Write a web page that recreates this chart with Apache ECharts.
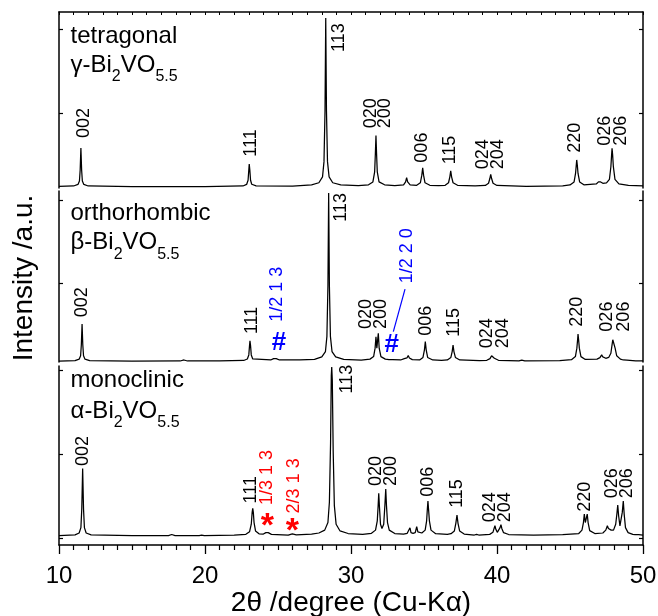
<!DOCTYPE html>
<html><head><meta charset="utf-8">
<script src="https://cdn.jsdelivr.net/npm/echarts@6/dist/echarts.min.js"></script>
<style>html,body{margin:0;padding:0;background:#fff}#c{width:658px;height:616px}</style>
</head><body><div id="c"></div>
<script>
// ---------- data (2θ, relative intensity; 113 peak = 100) ----------
const tetragonal = [
 [10,0.3],[11.0,0.6],[11.3,1.5],[11.4,3.5],[11.45,10],[11.5,23],[11.55,10],[11.6,3.5],[11.7,1.5],[12.0,0.6],
 [15,0.2],[20,0.2],
 [22.6,0.6],[22.85,1.5],[22.95,4],[23.0,10],[23.03,13.6],[23.07,10],[23.12,4],[23.2,1.6],[23.5,0.7],
 [26,0.5],
 [27.3,1.2],[27.8,2.5],[28.05,6],[28.15,15],[28.22,45],[28.27,100],[28.32,45],[28.39,15],[28.5,6],[28.75,2.5],[29.3,1.2],
 [30.5,0.8],
 [31.2,1.3],[31.5,3],[31.62,9],[31.67,20],[31.71,30.4],[31.75,20],[31.8,9],[31.92,3],[32.3,1.3],
 [33.0,0.8],
 [33.6,1.2],[33.74,3],[33.81,5.5],[33.88,3],[34.05,1.2],
 [34.5,1.0],[34.75,2.5],[34.85,7],[34.91,11.4],[34.97,7],[35.07,2.5],[35.4,1.0],
 [36.0,0.8],
 [36.45,1.0],[36.68,2.5],[36.77,6],[36.83,9.5],[36.89,6],[36.99,2.5],[37.3,1.0],
 [38.5,0.6],
 [39.2,0.9],[39.42,2.2],[39.51,5],[39.57,7.5],[39.63,5],[39.73,2.2],[40.0,0.9],
 [42,0.4],[44.5,0.7],
 [45.0,1.2],[45.28,3],[45.38,8],[45.43,13],[45.46,16],[45.5,13],[45.55,8],[45.66,3],[45.95,1.3],
 [46.8,1.8],[46.95,3],[47.03,4.1],[47.1,3],[47.25,2.2],
 [47.5,2.4],[47.7,4.5],[47.8,12],[47.85,19],[47.88,22.9],[47.92,19],[47.97,12],[48.08,4.5],[48.35,1.8],
 [49,0.9],[50,0.6]
];
const orthorhombic = [
 [10,0.3],[11.1,0.6],[11.38,1.5],[11.48,3.5],[11.53,10],[11.58,22.3],[11.63,10],[11.68,3.5],[11.78,1.5],[12.1,0.6],
 [15,0.3],[18.3,0.4],[18.56,1.0],[18.8,0.4],[21,0.4],
 [22.65,0.7],[22.9,1.6],[23.0,4],[23.05,9.5],[23.08,12.4],[23.12,9.5],[23.17,4],[23.27,1.6],
 [24.5,1.0],[24.7,1.8],[24.79,2.6],[24.88,1.8],[25.1,1.0],
 [26.5,1.0],
 [27.5,1.4],[28.0,2.8],[28.25,6],[28.35,15],[28.42,45],[28.47,100],[28.52,45],[28.59,15],[28.7,6],[28.95,2.8],[29.5,1.3],
 [30.7,0.9],
 [31.3,1.5],[31.55,3],[31.65,8],[31.71,14.8],[31.77,8],[31.8,8.5],[31.87,16.8],[31.93,8],[32.05,3],[32.35,1.5],
 [32.6,1.2],[32.72,2.0],[32.85,1.2],
 [33.4,1.0],[33.65,1.8],[33.75,2.5],[33.83,2.2],[33.92,3.6],[34.0,2.2],[34.2,1.2],
 [34.7,1.0],[34.93,2.5],[35.03,7],[35.09,11.9],[35.15,7],[35.25,2.5],[35.6,1.0],
 [36.2,0.8],
 [36.6,1.0],[36.84,2.5],[36.93,6],[36.99,9.9],[37.05,6],[37.15,2.5],[37.45,1.0],
 [38.8,0.6],
 [39.3,0.8],[39.52,1.8],[39.63,3.5],[39.67,3.0],[39.72,4.0],[39.82,2.0],[40.1,0.8],
 [41.5,0.5],[41.7,0.9],[41.9,0.5],[44.3,0.6],
 [45.1,1.2],[45.37,3],[45.47,8],[45.52,13],[45.55,16.4],[45.59,13],[45.64,8],[45.75,3],[46.05,1.3],
 [46.85,1.5],[47.05,2.4],[47.17,4.0],[47.25,2.8],[47.32,3.0],[47.45,2.0],
 [47.65,2.5],[47.8,5],[47.88,10],[47.93,13],[47.97,12],[48.03,13.9],[48.09,8],[48.2,3.5],[48.45,1.5],
 [48.65,1.0],[48.77,1.6],[48.9,0.9],
 [49.5,0.5],[50,0.4]
];
const monoclinic = [
 [10,0.3],[11.1,0.7],[11.38,1.8],[11.5,5],[11.56,16],[11.62,40],[11.68,16],[11.74,5],[11.86,1.8],[12.2,0.7],
 [15,0.3],[17.5,0.3],[17.72,0.9],[17.95,0.3],[19.6,0.3],[19.77,0.6],[19.95,0.3],[22,0.5],
 [22.8,1.0],[23.05,2.5],[23.17,7],[23.23,14],[23.27,16.4],[23.31,14],[23.36,8],[23.46,3],[23.7,1.3],
 [24.0,1.2],[24.17,2.0],[24.25,3.1],[24.33,2.0],[24.55,1.0],
 [25.7,0.6],[25.98,1.3],[26.25,0.7],
 [27.3,1.2],
 [27.8,1.8],[28.2,3.5],[28.42,8],[28.52,20],[28.6,55],[28.65,95],[28.68,100],[28.72,92],[28.78,50],[28.86,18],[28.98,7],[29.25,3],[29.8,1.5],
 [30.8,1.0],
 [31.4,1.6],[31.68,3.5],[31.8,9],[31.86,18],[31.9,25.3],[31.95,17],[32.02,7],[32.12,4.5],[32.24,7],[32.32,18],[32.38,27.8],[32.43,18],[32.5,8],[32.62,3.5],[33.0,1.5],
 [33.6,1.2],
 [33.85,1.6],[33.94,2.2],[33.98,1.8],[34.04,4.9],[34.11,2.0],[34.25,1.6],
 [34.4,2.0],[34.5,5.5],[34.58,2.5],
 [34.85,1.8],[35.08,3.5],[35.18,9],[35.23,16],[35.27,20.7],[35.31,16],[35.37,9],[35.48,3.5],[35.8,1.4],
 [36.6,1.0],
 [36.85,1.4],[37.08,3],[37.18,7.5],[37.26,12.4],[37.33,7.5],[37.44,3],[37.75,1.2],
 [38.45,0.6],[38.6,1.0],[38.75,0.6],
 [39.5,1.0],[39.72,2.2],[39.8,4.5],[39.86,6.1],[39.92,4],[40.02,2.2],[40.13,2.8],[40.21,5],[40.27,6.7],[40.33,4.5],[40.45,2.0],[40.8,0.9],
 [42.5,0.6],[44.5,0.8],
 [45.6,1.5],[45.82,3.5],[45.92,8],[45.98,13],[46.05,8],[46.08,8.5],[46.13,11],[46.18,13],[46.24,8],[46.35,3.2],[46.7,1.5],
 [47.25,1.8],[47.45,3.5],[47.56,6.1],[47.63,4.5],[47.72,4.0],[47.82,3.5],
 [47.98,3.5],[48.13,7],[48.21,13],[48.27,18.3],[48.33,12],[48.42,6],[48.5,7],[48.58,14],[48.65,20.7],[48.71,13],[48.8,5],[48.98,2],[49.3,1.0],
 [49.45,0.8],[49.57,1.3],[49.7,0.8],[50,0.5]
];
// peak labels: [2θ, intensity at label start, text]
const tetraLabels = [
 [11.71,29,'002'],[23.13,17.9,'111'],[29.21,79.9,'113'],[31.35,34.7,'020'],[32.35,34.7,'200'],
 [34.89,14.4,'006'],[36.78,13.4,'115'],[39.06,10.5,'024'],[40.09,10.5,'204'],[45.34,20.3,'220'],
 [47.4,24.4,'026'],[48.47,24.4,'206']
];
const orthoLabels = [
 [11.6,26.3,'002'],[23.24,16.4,'111'],[29.29,83,'113'],[31.0,19.4,'020'],[32.08,19.4,'200'],
 [35.11,15.4,'006'],[37.05,14.8,'115'],[39.34,7.9,'024'],[40.43,7.9,'204'],[45.5,20.7,'220'],
 [47.55,17.8,'026'],[48.7,17.8,'206']
];
const orthoSuperLabels = [[24.91,23.7,'1/2 1 3'],[33.86,46.5,'1/2 2 0']];
const orthoHash = [[25.07,10.9],[32.79,9.9]];
const orthoLeader = [[32.9,17.8],[33.7,43]];
const monoLabels = [
 [11.67,41.4,'002'],[23.13,19.3,'111'],[29.75,84.4,'113'],[31.69,29.6,'020'],[32.76,29.6,'200'],
 [35.3,23.3,'006'],[37.26,16.7,'115'],[39.5,8.1,'024'],[40.55,8.1,'204'],[46.03,14.4,'220'],
 [47.9,22.3,'026'],[48.93,22.3,'206']
];
const monoSuperLabels = [[24.27,18.3,'1/3 1 3'],[26.1,13.4,'2/3 1 3']];
const monoStars = [[24.27,5.3],[25.98,2.4]];
const xTickLabels = [10,20,30,40,50];

// ---------- chart ----------
const FONT = "'Liberation Sans', Arial, sans-serif";
const chart = echarts.init(document.getElementById('c'), null, {renderer:'canvas'});
const axisLineStyle = {color:'#000', width:1.5};
const grids = [
 {left:59, right:15, top:12, height:176},
 {left:59, right:15, top:191, height:171},
 {left:59, right:15, top:366, height:179}
];
grids.forEach(g => { g.outerBoundsMode = 'none'; g.containLabel = false; });
const yRanges = [[-0.6,103.5],[-0.2,101.2],[-5.3,100.6]];
const yTicks = [[43.8,93.5],[46.6,95.8],[-1.2,48.5,97.9]];
const yAxes = [];
yRanges.forEach((r,i) => {
  ['left','right'].forEach(pos => {
    yAxes.push({gridIndex:i, type:'value', min:r[0], max:r[1], position:pos,
      axisLine:{show:true, onZero:false, lineStyle:axisLineStyle},
      axisTick:{show:true, inside:true, length:4, customValues:yTicks[i], lineStyle:{color:'#000', width:1.2}},
      axisLabel:{show:false}, splitLine:{show:false}});
  });
});
const xAxes = [
 {gridIndex:0, type:'value', min:10, max:50, interval:1, position:'top',
  axisLine:{show:true, onZero:false, lineStyle:axisLineStyle},
  axisTick:{show:true, inside:true, length:3, lineStyle:{color:'#000', width:1}},
  axisLabel:{show:false}, splitLine:{show:false}},
 {gridIndex:1, type:'value', min:10, max:50, show:false},
 {gridIndex:2, type:'value', min:10, max:50, interval:10, position:'bottom',
  axisLine:{show:true, onZero:false, lineStyle:axisLineStyle},
  axisTick:{show:true, inside:false, length:9, lineStyle:{color:'#000', width:1.3}},
  minorTick:{show:true, splitNumber:10, length:5, lineStyle:{color:'#000', width:1.2}},
  axisLabel:{show:true, color:'#000', fontSize:24, fontFamily:FONT, margin:19,
    formatter: v => xTickLabels.includes(v) ? String(v) : ''},
  splitLine:{show:false}, minorSplitLine:{show:false}}
];
function curve(data, gi){
  return {type:'line', xAxisIndex:gi, yAxisIndex:gi*2, data:data, showSymbol:false, symbol:'none',
    lineStyle:{color:'#000', width:1.25}, silent:true, clip:true};
}
function labels(arr, gi, color){
  return {type:'scatter', xAxisIndex:gi, yAxisIndex:gi*2, symbolSize:0, clip:false,
    itemStyle:{color:color, opacity:1}, silent:true,
    data: arr.map(a => ({value:[a[0],a[1]], name:a[2]})),
    label:{show:true, position:'inside', formatter:'{b}', rotate:90, align:'left', verticalAlign:'middle',
      color:color, fontSize:18, fontFamily:FONT, textBorderWidth:0, opacity:1}};
}
function marks(arr, gi, color, txt, size, weight){
  return {type:'scatter', xAxisIndex:gi, yAxisIndex:gi*2, symbolSize:0, clip:false,
    itemStyle:{color:color, opacity:1}, silent:true,
    data: arr.map(a => ({value:[a[0],a[1]]})),
    label:{show:true, position:'inside', formatter:txt, align:'center', verticalAlign:'middle',
      color:color, fontSize:size, fontWeight:weight, fontFamily:FONT, textBorderWidth:0, opacity:1}};
}
const BLUE = '#0000ff', RED = '#ff0000';
const series = [
  curve(tetragonal,0), curve(orthorhombic,1), curve(monoclinic,2),
  labels(tetraLabels,0,'#000'), labels(orthoLabels,1,'#000'), labels(monoLabels,2,'#000'),
  labels(orthoSuperLabels,1,BLUE), labels(monoSuperLabels,2,RED),
  marks(orthoHash,1,BLUE,'#',26,'bold'), marks(monoStars,2,RED,'*',34,'bold'),
  {type:'line', xAxisIndex:1, yAxisIndex:2, data:orthoLeader, showSymbol:false, symbol:'none',
   lineStyle:{color:BLUE, width:1.2}, silent:true}
];
const richSub = {
  m:{fontSize:24, lineHeight:32, verticalAlign:'top', fontFamily:FONT, color:'#000'},
  s:{fontSize:16, lineHeight:14, verticalAlign:'bottom', fontFamily:FONT, color:'#000'}
};
function title1(text, cy){
  return {type:'text', x:70.5, y:cy, style:{text:text, font:'24px '+FONT, fill:'#000',
    textAlign:'left', textVerticalAlign:'middle', verticalAlign:'middle'}};
}
function title2(greek, top){
  return {type:'text', x:70.5, y:top, style:{text:'{m|'+greek+'-Bi}{s|2}{m|VO}{s|5.5}', rich:richSub,
    fill:'#000', align:'left', verticalAlign:'top', textAlign:'left', textVerticalAlign:'top'}};
}
const graphic = [
  title1('tetragonal',36.7), title2('γ',53),
  title1('orthorhombic',213.4), title2('β',230.7),
  title1('monoclinic',380), title2('α',399),
  {type:'text', x:24, y:278, rotation:Math.PI/2, style:{text:'Intensity /a.u.', font:'28px '+FONT, fill:'#000',
    align:'center', verticalAlign:'middle', textAlign:'center', textVerticalAlign:'middle'}},
  {type:'text', x:351, y:603, style:{text:'2θ /degree (Cu-Kα)', font:'28px '+FONT, fill:'#000',
    align:'center', verticalAlign:'middle', textAlign:'center', textVerticalAlign:'middle'}}
];
chart.setOption({
  animation:false, backgroundColor:'#fff',
  textStyle:{fontFamily:FONT},
  grid:grids, xAxis:xAxes, yAxis:yAxes, series:series, graphic:graphic
});
</script></body></html>
